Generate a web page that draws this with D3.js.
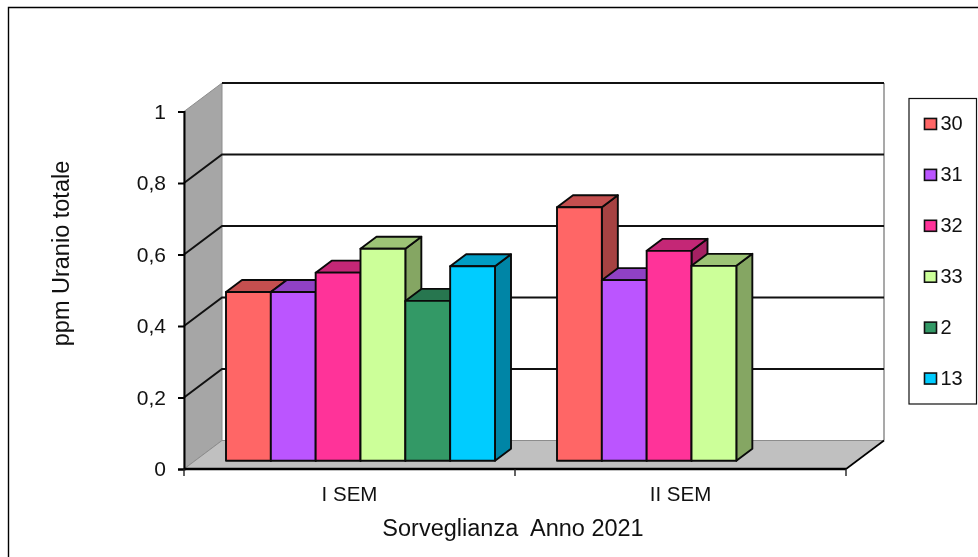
<!DOCTYPE html>
<html><head><meta charset="utf-8">
<script src="https://d3js.org/d3.v7.min.js"></script>
<style>html,body{margin:0;padding:0;background:#fff}svg{display:block;filter:blur(0.35px)}text{font-family:"Liberation Sans",Arial,sans-serif;fill:#111}</style>
</head><body><div id="chart"></div>
<script>
const categories = ["I SEM", "II SEM"];
const seriesNames = ["30", "31", "32", "33", "2", "13"];
const seriesColors = ["#ff6666", "#bb55ff", "#ff3399", "#ccff99", "#339966", "#00ccff"];
const valuesISem = [0.472, 0.472, 0.526, 0.593, 0.447, 0.544];
const valuesIISem = [0.709, 0.505, 0.587, 0.545, null, null];
const yTicks = [0, 0.2, 0.4, 0.6, 0.8, 1];
const yTitle = "ppm Uranio totale";
const xTitle = "Sorveglianza  Anno 2021";

const W = 978, H = 557;
const svg = d3.select("#chart").append("svg").attr("width", W).attr("height", H);
const fmt = v => String(v).replace(".", ",");

const y = d3.scaleLinear().domain([0, 1]).range([469, 111.5]);
const x0 = d3.scaleBand().domain(categories).range([184, 846]);
const wall = {dx: 38, dy: -28.5};
const barPlane = {dx: 11, dy: -8.3};
const bar = {dx: 16, dy: -12};
const x1 = d3.scaleBand().domain(d3.range(seriesNames.length)).range([31, x0.bandwidth() - 31]);

const poly = pts => pts.map(p => p.join(",")).join(" ");

// frame
svg.append("path").attr("d", `M8.5 ${H}V7.5H${W}`).attr("fill", "none").attr("stroke", "#000").attr("stroke-width", 1.4);

// walls
const [xa, xb] = x0.range();
const y0 = y(0), y1 = y(1);
svg.append("polygon").attr("fill", "#a6a6a6").attr("stroke", "#8c8c8c")
  .attr("points", poly([[xa, y0], [xa, y1], [xa + wall.dx, y1 + wall.dy], [xa + wall.dx, y0 + wall.dy]]));
svg.append("polygon").attr("fill", "#c0c0c0").attr("stroke", "#8c8c8c")
  .attr("points", poly([[xa, y0], [xb, y0], [xb + wall.dx, y0 + wall.dy], [xa + wall.dx, y0 + wall.dy]]));
svg.append("path").attr("fill", "none").attr("stroke", "#8c8c8c").attr("stroke-width", 1.5)
  .attr("d", `M${xb + wall.dx} ${y0 + wall.dy}V${y1 + wall.dy}`);
svg.append("line").attr("stroke", "#000").attr("stroke-width", 1.6)
  .attr("x1", xb).attr("y1", y0).attr("x2", xb + wall.dx).attr("y2", y0 + wall.dy);

// gridlines
svg.append("g").selectAll("path").data(yTicks.filter(t => t > 0)).join("path")
  .attr("fill", "none").attr("stroke", "#111").attr("stroke-width", 2)
  .attr("d", t => t === 1
    ? `M${xa + wall.dx} ${y(t) + wall.dy}H${xb + wall.dx}`
    : `M${xa} ${y(t)}L${xa + wall.dx} ${y(t) + wall.dy}H${xb + wall.dx}`);

// bars
const rows = categories.map((c, i) => ({c, vals: i === 0 ? valuesISem : valuesIISem}));
const barsG = svg.append("g").attr("stroke", "#0a0a0a").attr("stroke-width", 1.9).attr("stroke-linejoin", "round");
rows.forEach(r => {
  r.vals.forEach((v, i) => {
    if (v === null) return;
    const left = x0(r.c) + x1(i) + barPlane.dx, w = x1.bandwidth();
    const top = y(v) + barPlane.dy, bot = y(0) + barPlane.dy;
    const col = d3.rgb(seriesColors[i]);
    const shade = k => d3.rgb(col.r * k, col.g * k, col.b * k).formatHex();
    barsG.append("polygon").attr("fill", shade(0.65))
      .attr("points", poly([[left + w, top], [left + w + bar.dx, top + bar.dy], [left + w + bar.dx, bot + bar.dy], [left + w, bot]]));
    barsG.append("polygon").attr("fill", shade(0.77))
      .attr("points", poly([[left, top], [left + bar.dx, top + bar.dy], [left + w + bar.dx, top + bar.dy], [left + w, top]]));
    barsG.append("rect").attr("fill", seriesColors[i])
      .attr("x", left).attr("y", top).attr("width", w).attr("height", bot - top);
  });
});

// axes
const yAxis = d3.axisLeft(y).tickValues(yTicks).tickFormat(fmt).tickSize(6).tickPadding(12);
const gy = svg.append("g").attr("transform", `translate(${xa},0)`).call(yAxis);
gy.selectAll("text").attr("font-size", 21).style("font-family", '"Liberation Sans"');
gy.selectAll("line,path").attr("stroke", "#000").attr("stroke-width", 2);

const xAxis = d3.axisBottom(x0).tickSize(0).tickPadding(17.5);
const gx = svg.append("g").attr("transform", `translate(0,${y0})`).call(xAxis);
gx.selectAll("text").attr("font-size", 20.5).style("font-family", '"Liberation Sans"');
gx.select("path.domain").attr("stroke", "#000").attr("stroke-width", 2.4).attr("d", `M${xa} 0H${xb}`);
gx.selectAll("path.tickmark").data([xa, ...categories.map(c => x0(c) + x0.bandwidth())]).join("path")
  .attr("class", "tickmark").attr("stroke", "#222").attr("stroke-width", 1.4).attr("d", d => `M${d} 0V7`);

// titles
svg.append("text").attr("transform", "translate(69,253.5) rotate(-90)").attr("text-anchor", "middle")
  .attr("font-size", 23.5).text(yTitle);
svg.append("text").attr("x", 513).attr("y", 536).attr("text-anchor", "middle")
  .attr("font-size", 23.5).style("white-space", "pre").text(xTitle);

// legend
const leg = d3.scaleBand().domain(seriesNames).range([98.5, 404]);
svg.append("rect").attr("x", 909).attr("y", 98.5).attr("width", 67.5).attr("height", 305.5)
  .attr("fill", "#fff").attr("stroke", "#111").attr("stroke-width", 1.2);
const li = svg.append("g").selectAll("g").data(seriesNames).join("g")
  .attr("transform", d => `translate(0,${leg(d) + leg.bandwidth() / 2})`);
li.append("rect").attr("x", 924.5).attr("y", -5.5).attr("width", 12).attr("height", 11)
  .attr("fill", (d, i) => seriesColors[i]).attr("stroke", "#111").attr("stroke-width", 1.6);
li.append("text").attr("x", 940.5).attr("y", 6.5).attr("font-size", 20).text(d => d);
</script></body></html>
